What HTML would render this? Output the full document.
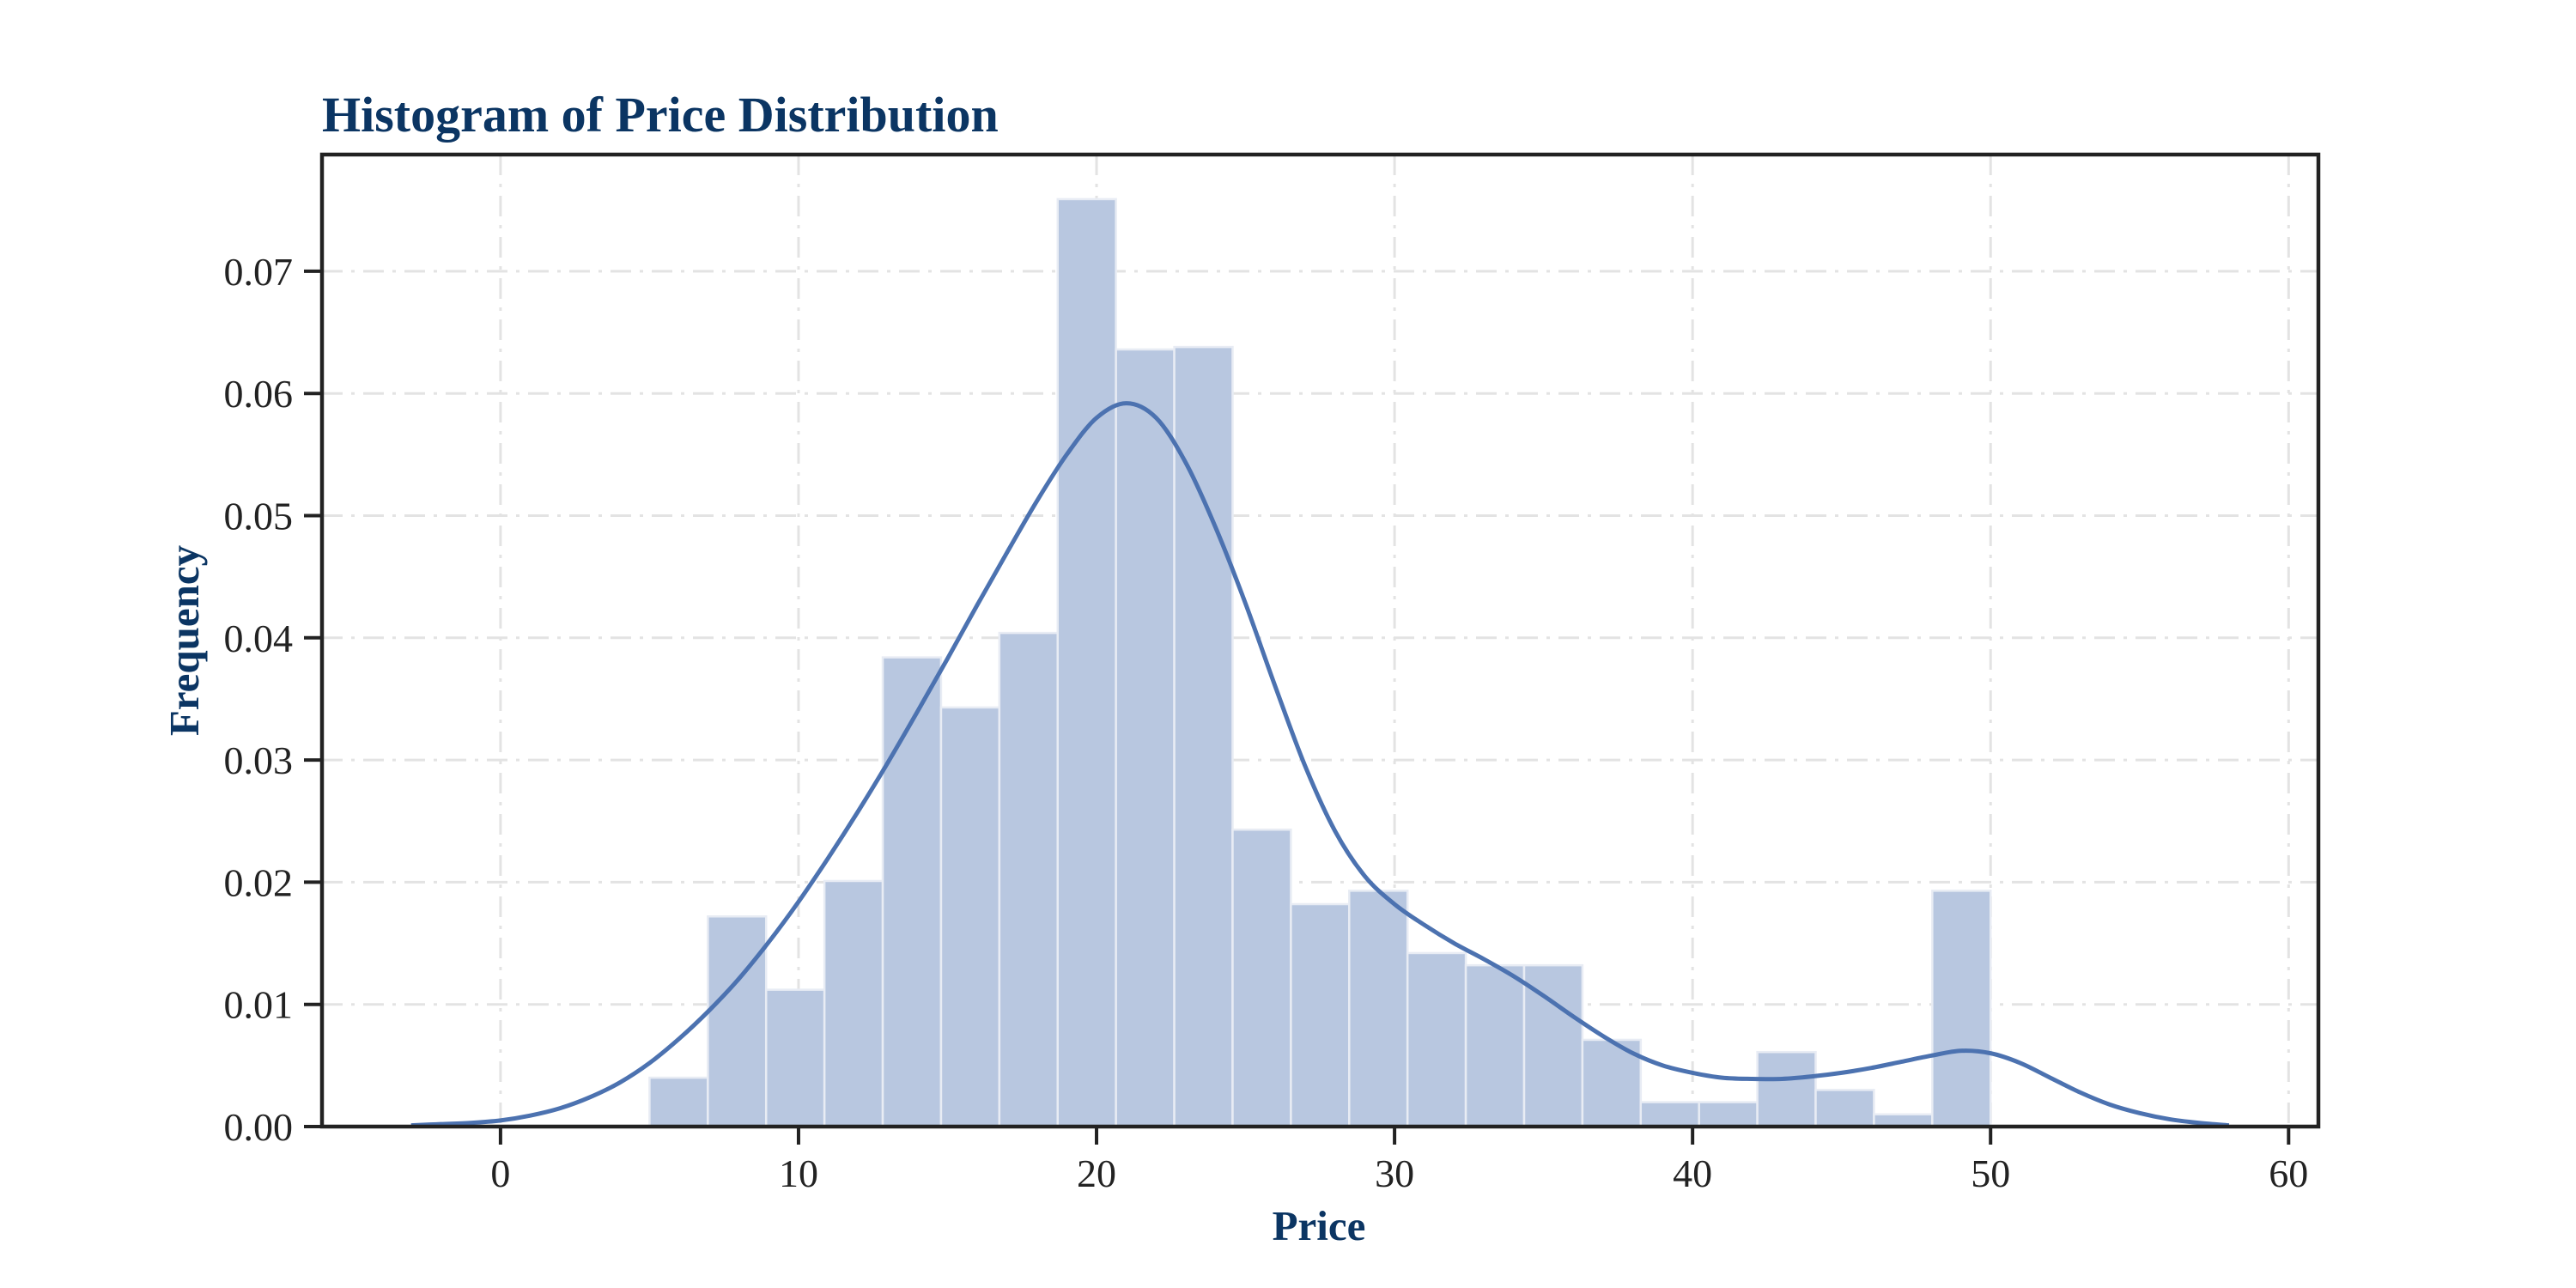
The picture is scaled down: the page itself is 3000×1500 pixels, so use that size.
<!DOCTYPE html>
<html><head><meta charset="utf-8"><style>
html,body{margin:0;padding:0;background:#fff}
svg{display:block}
text{font-family:"Liberation Serif",serif}
</style></head><body>
<svg id="chart" width="3000" height="1500" viewBox="0 0 3000 1500" xmlns="http://www.w3.org/2000/svg">
<rect width="3000" height="1500" fill="#fff"/>
<text x="375" y="153" font-size="58" font-weight="bold" fill="#0b3563">Histogram of Price Distribution</text>
<g id="grid"></g>
<g id="bars"></g>
<g id="kde"></g>
<g id="axes"></g>
<text x="1536" y="1444" font-size="49" font-weight="bold" fill="#0b3563" text-anchor="middle">Price</text>
<text transform="translate(231,746) rotate(-90)" font-size="49" font-weight="bold" fill="#0b3563" text-anchor="middle">Frequency</text>
</svg>
<script>
const binStart = 5;
const binEnd = 50;
const binValues = [0.0040,0.0172,0.0112,0.0201,0.0384,0.0343,0.0404,0.0759,0.0636,0.0638,0.0243,0.0182,0.0193,0.0142,0.0132,0.0132,0.0071,0.0020,0.0020,0.0061,0.0030,0.0010,0.0193];
const kdeX = [-3,-2,-1,0,1,2,3,4,5,6,7,8,9,10,11,12,13,14,15,16,17,18,19,20,21,22,23,24,25,26,27,28,29,30,31,32,33,34,35,36,37,38,39,40,41,42,43,44,45,46,47,48,49,50,51,52,53,54,55,56,57,58];
const kdeY = [0.0001,0.0002,0.0003,0.0005,0.0009,0.0015,0.0024,0.0036,0.0052,0.0072,0.0095,0.0121,0.0151,0.0184,0.0220,0.0258,0.0298,0.0340,0.0383,0.0427,0.0470,0.0512,0.0550,0.0580,0.0592,0.0580,0.0543,0.0490,0.0428,0.0360,0.0295,0.0242,0.0205,0.0182,0.0165,0.0150,0.0137,0.0123,0.0107,0.0090,0.0074,0.0060,0.0050,0.0044,0.0040,0.0039,0.0039,0.0041,0.0044,0.0048,0.0053,0.0058,0.0062,0.0060,0.0052,0.0040,0.0028,0.0018,0.0011,0.0006,0.0003,0.0001];
const xTicks = [0,10,20,30,40,50,60];
const yTicks = [0,0.01,0.02,0.03,0.04,0.05,0.06,0.07];
const yTickLabels = ["0.00","0.01","0.02","0.03","0.04","0.05","0.06","0.07"];

const L=375,R=2700,T=180,B=1312;
const xMin=-5.99,xMax=61.0,yMin=0,yMax=0.07955;
const X=v=>L+(v-xMin)/(xMax-xMin)*(R-L);
const Y=v=>B-(v-yMin)/(yMax-yMin)*(B-T);
const NS="http://www.w3.org/2000/svg";
function mk(tag,attrs,parent){const e=document.createElementNS(NS,tag);for(const k in attrs)e.setAttribute(k,attrs[k]);parent.appendChild(e);return e;}
const grid=document.getElementById('grid'),bars=document.getElementById('bars'),kde=document.getElementById('kde'),axes=document.getElementById('axes');

xTicks.forEach(t=>{const l=mk('line',{x1:X(t),x2:X(t),y1:T,y2:B,stroke:'#e3e3e3','stroke-width':3,'stroke-dasharray':'24 10 4 10'},grid);

});
yTicks.forEach(t=>{if(t===0)return;const l=mk('line',{x1:L,x2:R,y1:Y(t),y2:Y(t),stroke:'#e3e3e3','stroke-width':3,'stroke-dasharray':'24 10 4 10'},grid);

});

const bw=(binEnd-binStart)/binValues.length;
binValues.forEach((v,i)=>{const x0=X(binStart+i*bw),x1=X(binStart+(i+1)*bw);
const r=mk('rect',{x:x0,y:Y(v),width:x1-x0,height:B-Y(v),fill:'#b8c7e0',stroke:'#e8ecf4','stroke-width':2.5},bars);

});

const pts=kdeX.map((x,i)=>[X(x),Y(kdeY[i])]);
let d='M'+pts[0][0]+','+pts[0][1];
for(let i=0;i<pts.length-1;i++){const p0=pts[Math.max(0,i-1)],p1=pts[i],p2=pts[i+1],p3=pts[Math.min(pts.length-1,i+2)];
d+=' C'+(p1[0]+(p2[0]-p0[0])/6)+','+(p1[1]+(p2[1]-p0[1])/6)+' '+(p2[0]-(p3[0]-p1[0])/6)+','+(p2[1]-(p3[1]-p1[1])/6)+' '+p2[0]+','+p2[1];}
const path=mk('path',{d:d,fill:'none',stroke:'#4c72b0','stroke-width':5},kde);



const frame=mk('rect',{x:L,y:T,width:R-L,height:B-T,fill:'none',stroke:'#222','stroke-width':4.5},axes);


xTicks.forEach(t=>{const l=mk('line',{x1:X(t),x2:X(t),y1:B,y2:B+21,stroke:'#222','stroke-width':4},axes);


const tx=mk('text',{x:X(t),y:1382,'font-size':46,'text-anchor':'middle',fill:'#222'},axes);tx.textContent=t;

});
yTicks.forEach((t,i)=>{const l=mk('line',{x1:L-21,x2:L,y1:Y(t),y2:Y(t),stroke:'#222','stroke-width':4},axes);


const tx=mk('text',{x:341,y:Y(t)+16,'font-size':46,'text-anchor':'end',fill:'#222'},axes);tx.textContent=yTickLabels[i];

});
</script>
</body></html>
